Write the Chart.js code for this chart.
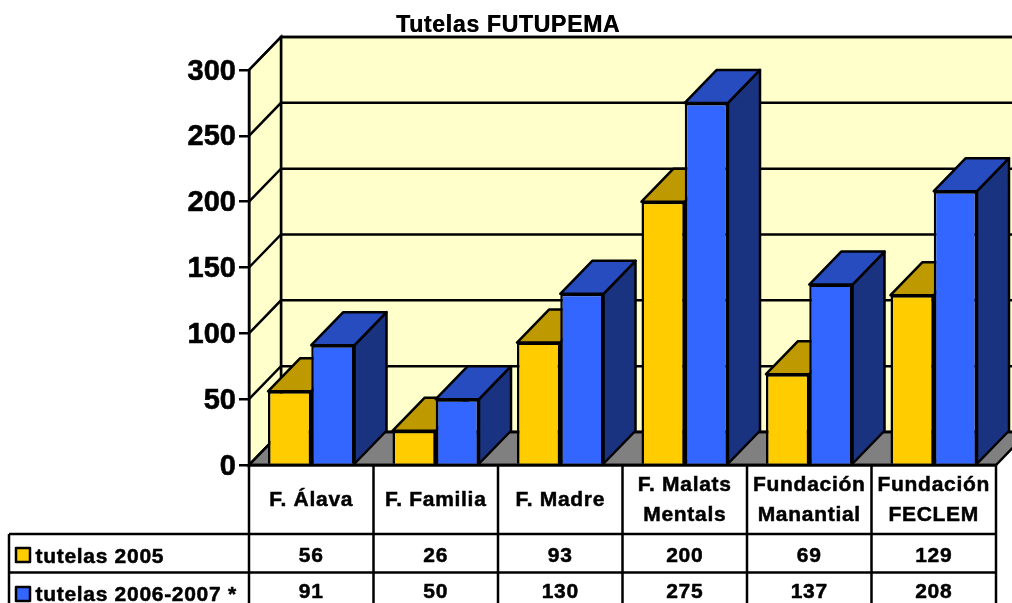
<!DOCTYPE html>
<html><head><meta charset="utf-8">
<style>html,body{margin:0;padding:0;background:#fff;overflow:hidden}canvas{display:block}</style>
<script src="https://cdn.jsdelivr.net/npm/chart.js@4/dist/chart.umd.min.js"></script>
</head><body>
<canvas id="c" width="1012" height="603"></canvas>
<script>
const chartTitle = 'Tutelas FUTUPEMA';
const categories = [['F. Álava'], ['F. Familia'], ['F. Madre'], ['F. Malats', 'Mentals'], ['Fundación', 'Manantial'], ['Fundación', 'FECLEM']];
const seriesNames = ['tutelas 2005', 'tutelas 2006-2007 *'];
const tutelas2005 = [56, 26, 93, 200, 69, 129];
const tutelas2006 = [91, 50, 130, 275, 137, 208];
const yMax = 300, yStep = 50;

const FRONT = ['#FFCC00', '#3366FF'], TOP = ['#BF9900', '#264CBF'], SIDE = ['#806600', '#1A3380'];
const DX = 32, DY = 33, INK = '#000', FONT = 'Liberation Sans, Arial, sans-serif', LW = 2.5;
const ROW_Y = [534, 572.5], TEXT_Y = [556, 592], LABEL_Y = [557, 595], KEY_Y = [548, 587], TABLE_LEFT = 9;

function poly(ctx, pts, fill) {
  ctx.beginPath();
  pts.forEach((p, i) => i ? ctx.lineTo(p[0], p[1]) : ctx.moveTo(p[0], p[1]));
  ctx.closePath();
  if (fill) { ctx.fillStyle = fill; ctx.fill(); }
  ctx.stroke();
}

const scene3d = {
  id: 'scene3d',
  afterLayout(chart) {
    const tb = chart.titleBlock;
    if (tb && !tb._shifted) {
      tb._shifted = true;
      tb.right += 20;
      const orig = tb.draw;
      tb.draw = function () {
        orig.call(this);
        chart.ctx.save(); chart.ctx.translate(0.5, 0); orig.call(this); chart.ctx.restore();
      };
    }
    const y = chart.scales.y;
    if (!y._wrapped) {
      y._wrapped = true;
      const orig = y.drawLabels;
      y.drawLabels = function (area) {
        const c = chart.ctx;
        c.save(); c.letterSpacing = '0px'; c.translate(0, 1.5);
        orig.call(this, area);
        c.restore();
      };
    }
  },
  beforeDraw(chart) {
    const { ctx, chartArea: a, scales: { y } } = chart;
    ctx.letterSpacing = '0.7px';
    ctx.save();
    ctx.lineWidth = LW; ctx.strokeStyle = INK; ctx.lineJoin = 'miter';
    const b = y.getPixelForValue(0), t = y.getPixelForValue(yMax);
    poly(ctx, [[a.left + DX, t - DY], [a.right + DX, t - DY], [a.right + DX, b - DY], [a.left + DX, b - DY]], '#FFFFCC');
    poly(ctx, [[a.left, b], [a.left, t], [a.left + DX, t - DY], [a.left + DX, b - DY]], '#FFFFCC');
    poly(ctx, [[a.left, b], [a.left + DX, b - DY], [a.right + DX, b - DY], [a.right, b]], '#808080');
    y.ticks.forEach(tk => {
      const py = y.getPixelForValue(tk.value);
      ctx.beginPath();
      ctx.moveTo(a.left, py); ctx.lineTo(a.left + DX, py - DY); ctx.lineTo(a.right + DX, py - DY);
      ctx.stroke();
    });
    ctx.restore();
  },
  beforeDatasetsDraw(chart) {
    const { ctx } = chart;
    ctx.save();
    ctx.lineWidth = LW; ctx.strokeStyle = INK; ctx.lineJoin = 'round';
    chart.data.labels.forEach((_, j) => {
      [0, 1].forEach(d => {
        const bar = chart.getDatasetMeta(d).data[j];
        const l = bar.x - bar.width / 2, r = bar.x + bar.width / 2, ty = bar.y, by = bar.base;
        poly(ctx, [[r, ty], [r + DX, ty - DY], [r + DX, by - DY], [r, by]], SIDE[d]);
        poly(ctx, [[l, ty], [l + DX, ty - DY], [r + DX, ty - DY], [r, ty]], TOP[d]);
      });
    });
    ctx.restore();
  },
  afterDraw(chart) {
    const { ctx, chartArea: a, scales: { x } } = chart;
    const H = chart.height, cw = (a.right - a.left) / chart.data.labels.length;
    ctx.save();
    ctx.lineWidth = LW; ctx.strokeStyle = INK;
    const line = (x1, y1, x2, y2) => { ctx.beginPath(); ctx.moveTo(x1, y1); ctx.lineTo(x2, y2); ctx.stroke(); };
    line(a.left, a.bottom, a.right, a.bottom);
    for (let i = 0; i <= chart.data.labels.length; i++) line(a.left + i * cw, a.bottom, a.left + i * cw, H);
    line(TABLE_LEFT, ROW_Y[0], a.right, ROW_Y[0]);
    line(TABLE_LEFT, ROW_Y[1], a.right, ROW_Y[1]);
    line(TABLE_LEFT, ROW_Y[0], TABLE_LEFT, H);
    ctx.font = 'bold 21px ' + FONT;
    ctx.fillStyle = INK; ctx.textBaseline = 'middle'; ctx.textAlign = 'center';
    ctx.lineJoin = 'round';
    const put = (s, px, py) => { ctx.lineWidth = 0.5; ctx.strokeText(s, px, py); ctx.fillText(s, px, py); };
    chart.data.datasets.forEach((ds, d) => {
      ds.data.forEach((v, j) => put(String(v), x.getPixelForTick(j), TEXT_Y[d]));
    });
    ctx.textAlign = 'left';
    chart.data.datasets.forEach((ds, d) => {
      ctx.lineWidth = LW;
      ctx.fillStyle = FRONT[d];
      ctx.fillRect(16, KEY_Y[d], 14, 14);
      ctx.strokeRect(16, KEY_Y[d], 14, 14);
      ctx.fillStyle = INK;
      put(ds.label, 35.5, LABEL_Y[d]);
    });
    ctx.restore();
  }
};

new Chart(document.getElementById('c'), {
  type: 'bar',
  plugins: [scene3d],
  data: {
    labels: categories,
    datasets: [
      { label: seriesNames[0], data: tutelas2005, backgroundColor: FRONT[0] },
      { label: seriesNames[1], data: tutelas2006, backgroundColor: FRONT[1] }
    ]
  },
  options: {
    responsive: false, animation: false,
    layout: { padding: { left: 0, right: 16, top: 0, bottom: 0 } },
    datasets: { bar: { categoryPercentage: 0.695, barPercentage: 1, borderWidth: LW, borderColor: INK, borderSkipped: 'bottom' } },
    plugins: {
      legend: { display: false }, tooltip: { enabled: false },
      title: { display: true, text: chartTitle, color: INK, font: { family: FONT, size: 23, weight: 'bold', lineHeight: 1.2 }, padding: { top: 12, bottom: 30.4 } }
    },
    scales: {
      x: {
        grid: { display: false, drawTicks: false },
        border: { display: true, color: INK, width: LW },
        afterFit(s) { s.height = 138; },
        ticks: {
          color: INK, autoSkip: false, maxRotation: 0, minRotation: 0, padding: 13,
          textStrokeColor: INK, textStrokeWidth: 0.5,
          font: { family: FONT, size: 21, weight: 'bold', lineHeight: '15px' },
          callback(v, i) { const c = categories[i]; return c.length === 1 ? ['', c[0], ''] : [c[0], '', c[1]]; }
        }
      },
      y: {
        min: 0, max: yMax,
        afterFit(s) { s.width = 249; },
        grid: { drawOnChartArea: false, drawTicks: true, tickLength: 10, color: INK, lineWidth: LW },
        border: { display: true, color: INK, width: LW },
        ticks: { stepSize: yStep, color: INK, padding: 3, textStrokeColor: INK, textStrokeWidth: 0.6, font: { family: FONT, size: 29, weight: 'bold' } }
      }
    }
  }
});
</script>
</body></html>
